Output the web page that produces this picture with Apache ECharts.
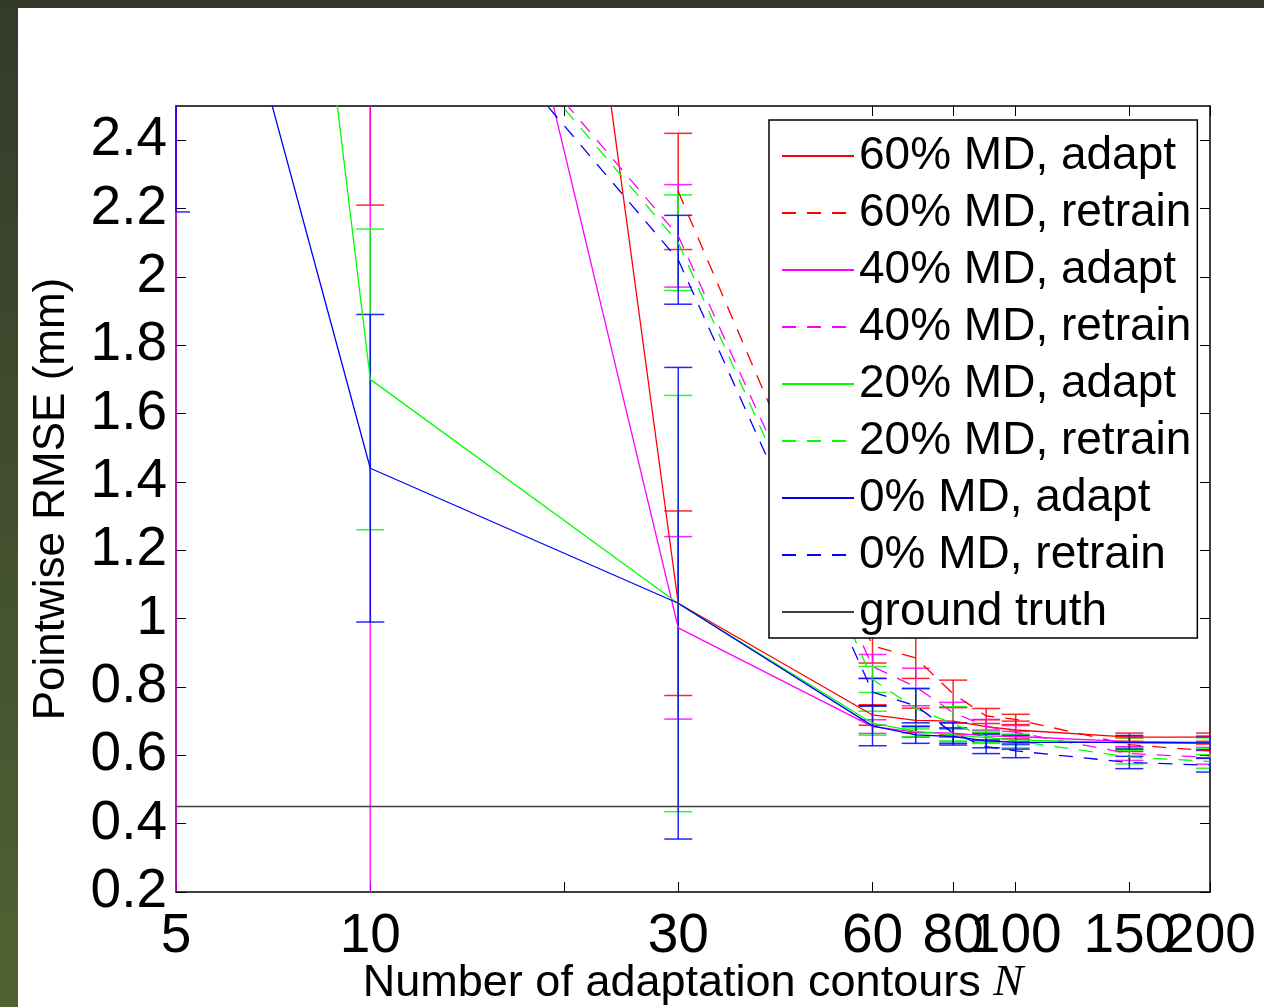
<!DOCTYPE html>
<html>
<head>
<meta charset="utf-8">
<script src="https://cdn.jsdelivr.net/npm/echarts@6/dist/echarts.min.js"></script>
<style>
  html, body { margin: 0; padding: 0; width: 1264px; height: 1007px; overflow: hidden;
    background: linear-gradient(#343a2a, #506232); }
  #chart { position: absolute; left: 18px; top: 8px; width: 1246px; height: 999px; background: #fff; }
</style>
</head>
<body>
<div id="chart"></div>
<script>
// number of adaptation contours
const N = [5, 10, 30, 60, 70, 80, 90, 100, 150, 200];
const xTicks = [5, 10, 20, 30, 60, 80, 100, 150, 200];
const xLabels = [5, 10, 30, 60, 80, 100, 150];
const yTicks = [0.2, 0.4, 0.6, 0.8, 1, 1.2, 1.4, 1.6, 1.8, 2, 2.2, 2.4];

// mean / std of pointwise RMSE (null = no point)
const red_adapt_mean = [9.0, 7.72, 1.045, 0.718, 0.702, 0.70, 0.684, 0.674, 0.653, 0.653];
const red_adapt_std = [3.0, 5.51, 0.27, 0.03, 0.036, 0.04, 0.02, 0.026, 0.012, 0.012];
const red_retrain_mean = [null, null, 2.25, 0.92, 0.885, 0.78, 0.715, 0.705, 0.631, 0.613];
const red_retrain_std = [null, null, 0.17, 0.05, 0.06, 0.04, 0.022, 0.015, 0.02, 0.02];
const mag_adapt_mean = [5.5, 4.74, 0.973, 0.684, 0.668, 0.665, 0.657, 0.655, 0.64, 0.638];
const mag_adapt_std = [5.6, 4.72, 0.267, 0.02, 0.015, 0.012, 0.015, 0.015, 0.015, 0.015];
const mag_retrain_mean = [null, 3.18, 2.12, 0.86, 0.80, 0.725, 0.685, 0.667, 0.605, 0.594];
const mag_retrain_std = [null, 0.3, 0.15, 0.035, 0.055, 0.03, 0.02, 0.02, 0.02, 0.02];
const green_adapt_mean = [6.42, 1.70, 1.044, 0.694, 0.67, 0.66, 0.652, 0.645, 0.636, 0.636];
const green_adapt_std = [1.5, 0.44, 0.609, 0.035, 0.015, 0.02, 0.015, 0.015, 0.015, 0.015];
const green_retrain_mean = [null, 3.16, 2.10, 0.822, 0.737, 0.692, 0.655, 0.642, 0.595, 0.582];
const green_retrain_std = [null, 0.3, 0.14, 0.038, 0.06, 0.05, 0.02, 0.02, 0.02, 0.02];
const blue_adapt_mean = [3.54, 1.44, 1.045, 0.686, 0.66, 0.655, 0.642, 0.638, 0.638, 0.636];
const blue_adapt_std = [1.35, 0.45, 0.69, 0.058, 0.025, 0.025, 0.02, 0.02, 0.02, 0.02];
const blue_retrain_mean = [null, 3.11, 2.05, 0.785, 0.745, 0.665, 0.625, 0.613, 0.579, 0.571];
const blue_retrain_std = [null, 0.3, 0.13, 0.04, 0.05, 0.03, 0.02, 0.02, 0.018, 0.02];
const groundTruth = 0.45;

const FONT = 'Liberation Sans';

const defs = [
  { name: '60% MD, adapt', color: '#ff0000', dash: false, mean: red_adapt_mean, std: red_adapt_std },
  { name: '60% MD, retrain', color: '#ff0000', dash: true, mean: red_retrain_mean, std: red_retrain_std },
  { name: '40% MD, adapt', color: '#ff00ff', dash: false, mean: mag_adapt_mean, std: mag_adapt_std },
  { name: '40% MD, retrain', color: '#ff00ff', dash: true, mean: mag_retrain_mean, std: mag_retrain_std },
  { name: '20% MD, adapt', color: '#00ff00', dash: false, mean: green_adapt_mean, std: green_adapt_std },
  { name: '20% MD, retrain', color: '#00ff00', dash: true, mean: green_retrain_mean, std: green_retrain_std },
  { name: '0% MD, adapt', color: '#0000ff', dash: false, mean: blue_adapt_mean, std: blue_adapt_std },
  { name: '0% MD, retrain', color: '#0000ff', dash: true, mean: blue_retrain_mean, std: blue_retrain_std },
];

// error bar: vertical line + caps, clipped to the grid by hand
function errorBar(color) {
  return function (params, api) {
    const x = api.value(0), m = api.value(1), s = api.value(2);
    const hi = api.coord([x, m + s]);
    const lo = api.coord([x, m - s]);
    const cs = params.coordSys;
    const half = 14;
    const style = { stroke: color, lineWidth: 1.5, opacity: 0.85 };
    const children = [];
    const y1 = Math.max(hi[1], cs.y), y2 = Math.min(lo[1], cs.y + cs.height);
    if (y2 > y1) {
      children.push({ type: 'line', shape: { x1: hi[0], y1: y1, x2: hi[0], y2: y2 }, style: style });
    }
    [hi, lo].forEach(function (p) {
      if (p[1] >= cs.y && p[1] <= cs.y + cs.height) {
        const xa = Math.max(p[0] - half, cs.x), xb = Math.min(p[0] + half, cs.x + cs.width);
        children.push({ type: 'line', shape: { x1: xa, y1: p[1], x2: xb, y2: p[1] }, style: style });
      }
    });
    return { type: 'group', children: children };
  };
}

const series = [];
defs.forEach(function (d) {
  series.push({
    name: d.name, type: 'line', xAxisIndex: 0, yAxisIndex: 0,
    data: N.map((n, i) => [n, d.mean[i]]),
    symbol: 'none', connectNulls: false, clip: true,
    itemStyle: { color: d.color },
    lineStyle: { color: d.color, width: 1.3, type: d.dash ? [14, 11] : 'solid' }
  });
  const eb = [];
  N.forEach((n, i) => { if (d.mean[i] != null) eb.push([n, d.mean[i], d.std[i]]); });
  series.push({
    name: d.name + ' err', type: 'custom', xAxisIndex: 0, yAxisIndex: 0,
    renderItem: errorBar(d.color), data: eb, encode: { x: 0, y: 1 }, silent: true
  });
});
series.push({
  name: 'ground truth', type: 'line', xAxisIndex: 0, yAxisIndex: 0,
  data: N.map(n => [n, groundTruth]), symbol: 'none',
  itemStyle: { color: '#404040' }, lineStyle: { color: '#404040', width: 1.4 }
});

const axisLine = { show: true, lineStyle: { color: '#000', width: 1.5 } };
const tickStyle = { color: '#000', width: 1 };
const labelStyle = { fontSize: 55, fontFamily: FONT, color: '#000' };
const lmin = Math.log10(5), lmax = Math.log10(200);

const chart = echarts.init(document.getElementById('chart'));
chart.setOption({
  animation: false,
  backgroundColor: '#fff',
  grid: { left: 158, right: 54, top: 98, bottom: 115, containLabel: false, outerBoundsMode: 'none' },
  legend: {
    data: defs.map(d => d.name).concat(['ground truth']),
    orient: 'vertical', left: 751, top: 112,
    itemWidth: 72, itemHeight: 14, itemGap: 11,
    padding: [13, 6, 3, 12],
    itemStyle: { opacity: 0 },
    backgroundColor: '#fff', borderColor: '#000', borderWidth: 1.5,
    selectedMode: false,
    textStyle: { fontSize: 46, fontFamily: FONT, color: '#000' }
  },
  xAxis: [
    {
      type: 'log', logBase: 10, min: 5, max: 200, position: 'bottom',
      axisLine: axisLine, axisTick: { show: false }, axisLabel: { show: false },
      splitLine: { show: false }, minorTick: { show: false },
      name: '{a|Number of adaptation contours }{n|N}',
      nameLocation: 'middle', nameGap: 69,
      nameTextStyle: {
        rich: {
          a: { fontSize: 45, fontFamily: FONT, color: '#000' },
          n: { fontSize: 45, fontFamily: 'Liberation Serif', fontStyle: 'italic', color: '#000' }
        }
      }
    },
    {
      type: 'value', min: lmin, max: lmax, position: 'bottom',
      axisLine: { show: false }, splitLine: { show: false },
      axisTick: { show: true, inside: true, length: 10, customValues: xTicks.map(Math.log10), lineStyle: tickStyle },
      axisLabel: Object.assign({ customValues: xLabels.map(Math.log10), margin: 17,
        formatter: v => String(Math.round(Math.pow(10, v))) }, labelStyle)
    },
    {
      type: 'value', min: lmin, max: lmax, position: 'bottom',
      axisLine: { show: false }, splitLine: { show: false }, axisTick: { show: false },
      axisLabel: Object.assign({ customValues: [lmax], margin: 17,
        formatter: v => String(Math.round(Math.pow(10, v))) }, labelStyle)
    },
    {
      type: 'value', min: lmin, max: lmax, position: 'top',
      axisLine: axisLine, splitLine: { show: false },
      axisTick: { show: true, inside: true, length: 10, customValues: xTicks.map(Math.log10), lineStyle: tickStyle },
      axisLabel: { show: false }
    }
  ],
  yAxis: [
    {
      type: 'value', min: 0.2, max: 2.5, position: 'left',
      axisLine: axisLine, splitLine: { show: false },
      axisTick: { show: true, inside: true, length: 10, customValues: yTicks, lineStyle: tickStyle },
      axisLabel: Object.assign({ customValues: yTicks, margin: 9,
        formatter: v => String(Math.round(v * 10) / 10) }, labelStyle),
      name: 'Pointwise RMSE (mm)', nameLocation: 'middle', nameGap: 102,
      nameTextStyle: { fontSize: 44, fontFamily: FONT, color: '#000' }
    },
    {
      type: 'value', min: 0.2, max: 2.5, position: 'right',
      axisLine: axisLine, splitLine: { show: false },
      axisTick: { show: true, inside: true, length: 10, customValues: yTicks, lineStyle: tickStyle },
      axisLabel: { show: false }
    }
  ],
  series: series
});
</script>
</body>
</html>
